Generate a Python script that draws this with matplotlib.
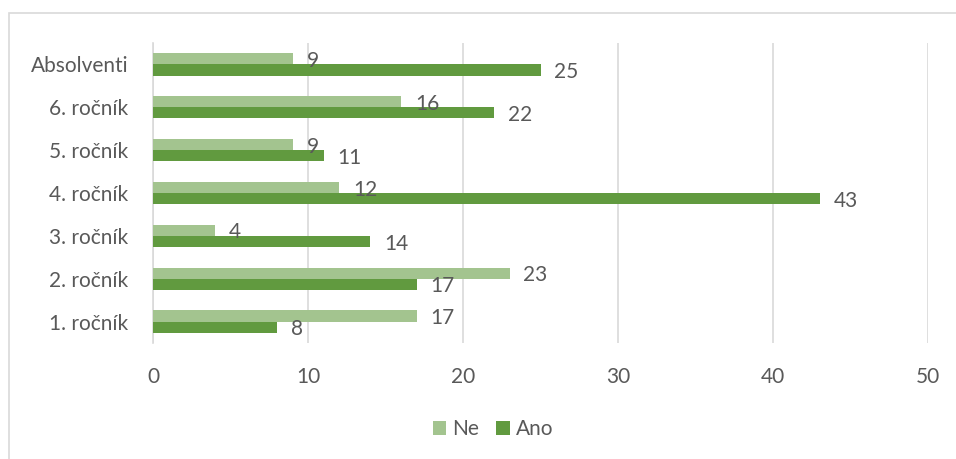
import matplotlib.pyplot as plt
import numpy as np
from matplotlib.patches import Rectangle

# data, bottom to top
categories = ['1. ročník', '2. ročník', '3. ročník', '4. ročník', '5. ročník', '6. ročník', 'Absolventi']
ne = [17, 23, 4, 12, 9, 16, 9]
ano = [8, 17, 14, 43, 11, 22, 25]
xticks = [0, 10, 20, 30, 40, 50]

plt.rcParams['font.family'] = ['Lato', 'DejaVu Sans']
text_col = '#595959'
grid_col = '#D9D9D9'
c_ne = '#A3C48F'
c_ano = '#619A3F'
fs = 15

fig = plt.figure(figsize=(9.56, 4.59), dpi=100)
ax = fig.add_axes([153 / 956, 1 - 343 / 459, 775 / 956, 300 / 459])

# outer chart frame
fig.patches.append(Rectangle((9 / 956, -0.05), 1.2, 1 - 13 / 459 + 0.05, transform=fig.transFigure,
                             fill=False, edgecolor=grid_col, linewidth=1.2))

y = np.arange(len(categories))
h = 0.26
b_ne = ax.barh(y + h / 2, ne, height=h, color=c_ne, label='Ne', zorder=3)
b_ano = ax.barh(y - h / 2, ano, height=h, color=c_ano, label='Ano', zorder=3)

for bars, vals in [(b_ne, ne), (b_ano, ano)]:
    for bar, v in zip(bars, vals):
        ax.annotate(str(v), (bar.get_width(), bar.get_y() + bar.get_height() / 2),
                    xytext=(10, -1.5), textcoords='offset points', va='center', ha='left',
                    fontsize=fs, color=text_col)

ax.set_xlim(0, 50)
ax.set_ylim(-0.5, len(categories) - 0.5)
ax.set_xticks(xticks)
ax.set_yticks(y)
ax.set_yticklabels(categories)
ax.grid(axis='x', color=grid_col, linewidth=1.2, zorder=0)
for s in ['top', 'right', 'bottom']:
    ax.spines[s].set_visible(False)
ax.spines['left'].set_color(grid_col)
ax.spines['left'].set_linewidth(1.2)
ax.tick_params(axis='both', length=0, labelsize=fs, labelcolor=text_col)
ax.tick_params(axis='x', pad=17)
ax.tick_params(axis='y', pad=18)

fig.legend(handles=[b_ne, b_ano], labels=['Ne', 'Ano'], loc='center', bbox_to_anchor=(493 / 956, 1 - 429 / 459),
           ncol=2, frameon=False, fontsize=fs, labelcolor=text_col, handlelength=0.65, handleheight=0.65,
           handletextpad=0.3, columnspacing=0.8)

fig.savefig('out.png', dpi=100)
